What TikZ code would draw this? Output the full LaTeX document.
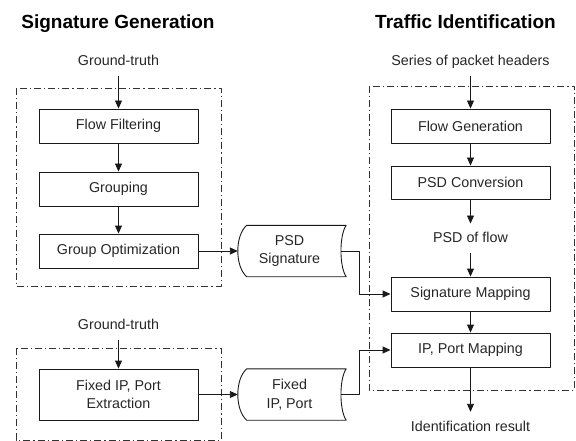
\documentclass[tikz,border=0pt]{standalone}
\usepackage{fontspec}
\setmainfont{Liberation Sans}
\usetikzlibrary{arrows.meta}

\begin{document}
\begin{tikzpicture}[x=1pt,y=-1pt,line join=round,>={Triangle[length=8pt,width=7pt]},font=\fontsize{14.3}{18.5}\selectfont,text=black!85]
    \tikzset{
        proc/.style={draw=black!90,line width=0.9pt,minimum width=159pt,minimum height=34pt,align=center,inner sep=0pt},
        store/.style={minimum width=103pt,minimum height=51pt,align=center,inner sep=0pt},
        lbl/.style={inner xsep=2pt,inner ysep=8.5pt,text height=10.5pt,text depth=2pt},
        ttl/.style={font=\fontsize{19}{22}\selectfont\bfseries,text=black},
        frame/.style={draw=black!80,line width=0.8pt,dash pattern=on 7pt off 3pt on 1.2pt off 3pt},
        arr/.style={->,draw=black!90,line width=0.9pt}
    }
    \useasboundingbox (0,0) rectangle (576,441);
    % titles
    \node[ttl,anchor=base] (ttlsig) at (118,28.5) {Signature Generation};
    \node[ttl,anchor=base] (ttltraf) at (465.5,28.5) {Traffic Identification};
    % signature generation
    \draw[frame] (16,88) rectangle (221,286);
    \draw[frame] (16,348) rectangle (221,440);
    \node[lbl,anchor=base] (gt1) at (118.5,65.7) {Ground-truth};
    \node[proc] (ff) at (118.5,126) {Flow Filtering};
    \node[proc] (grp) at (118.5,189) {Grouping};
    \node[proc] (gopt) at (118.5,251) {Group Optimization};
    \node[lbl,anchor=base] (gt2) at (118.5,329.3) {Ground-truth};
    \node[proc,minimum height=51pt] (fixext) at (118.5,394.5) {Fixed IP, Port\\Extraction};
    \node[store] (psdsig) at (289.5,251) {PSD\\Signature};
    \node[store] (fixip) at (289.5,394.5) {Fixed\\IP, Port};
    \foreach \s in {psdsig,fixip}
        \draw[black!90,line width=0.9pt] ([xshift=9pt]\s.north west) -- ([xshift=5pt]\s.north east)
            .. controls +(-7,10) and +(-7,-10) .. ([xshift=5pt]\s.south east)
            -- ([xshift=9pt]\s.south west)
            .. controls +(-12,-10) and +(-12,10) .. ([xshift=9pt]\s.north west) -- cycle;
    % traffic identification
    \draw[frame] (369,86) rectangle (574.5,390);
    \node[lbl,anchor=base] (pkt) at (470.5,65.7) {Series of packet headers};
    \node[proc] (fgen) at (470.5,126) {Flow Generation};
    \node[proc,minimum height=33pt] (psdc) at (470.5,182.5) {PSD Conversion};
    \node[lbl,anchor=base] (psdflow) at (470.5,242.7) {PSD of flow};
    \node[proc] (sigmap) at (470.5,294) {Signature Mapping};
    \node[proc] (ipmap) at (470.5,350) {IP, Port Mapping};
    \node[lbl,anchor=base] (res) at (470.5,431) {Identification result};
    % connectors
    \draw[arr] (gt1) -- (ff);
    \draw[arr] (ff) -- (grp);
    \draw[arr] (grp) -- (gopt);
    \draw[arr] (gopt) -- (psdsig);
    \draw[arr] (gt2) -- (fixext);
    \draw[arr] (fixext) -- (fixip);
    \draw[arr] (pkt) -- (fgen);
    \draw[arr] (fgen) -- (psdc);
    \draw[arr] (psdc) -- (psdflow);
    \draw[arr] (psdflow) -- (sigmap);
    \draw[arr] (sigmap) -- (ipmap);
    \draw[arr] (ipmap) -- (res);
    \draw[arr] (psdsig.east) -- ++(18,0) |- (sigmap.west);
    \draw[arr] (fixip.east) -- ++(18,0) |- (ipmap.west);
\end{tikzpicture}
\end{document}
